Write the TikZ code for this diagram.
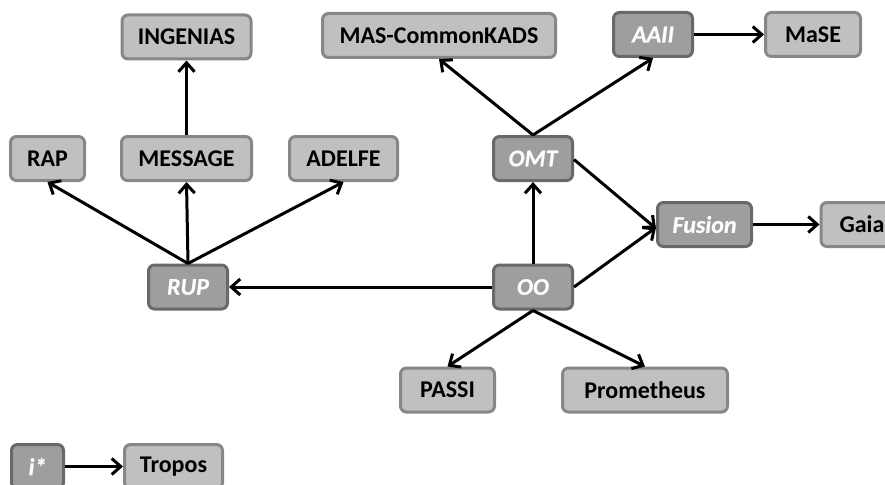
\documentclass[tikz,border=0pt]{standalone}
\usepackage{fontspec}
\setmainfont{Carlito}
\newfontfamily\lightlabel{Carlito}[ItalicFeatures={FakeBold=0.6}, BoldItalicFeatures={FakeBold=0.6}]
\usetikzlibrary{arrows.meta}
\definecolor{lightfill}{RGB}{192,192,192}
\definecolor{lightedge}{RGB}{135,135,135}
\definecolor{darkfill}{RGB}{158,158,158}
\definecolor{darkedge}{RGB}{105,105,105}
\definecolor{darktext}{RGB}{252,252,252}
\tikzset{
  method/.style={draw=lightedge, fill=lightfill, line width=3pt, rounded corners=6pt,
    minimum height=44pt, inner sep=0pt, text=black,
    font=\fontsize{24pt}{26pt}\selectfont\bfseries},
  origin/.style={method, draw=darkedge, fill=darkfill, text=darktext,
    font=\lightlabel\fontsize{24pt}{26pt}\selectfont\bfseries\itshape},
  link/.style={line width=3pt, -{Straight Barb[length=9pt,width=16pt,line width=3pt]}}
}
\begin{document}
\begin{tikzpicture}[x=1pt,y=-1pt]
\useasboundingbox (0,0) rectangle (885,484);
% methodology nodes
\node[method, minimum width=129pt] (ingenias) at (186.5,37) {INGENIAS};
\node[method, minimum width=233pt] (mas) at (439,35.5) {MAS-CommonKADS};
\node[origin, minimum width=79pt] (aaii) at (653,34.5) {AAII};
\node[method, minimum width=95pt] (mase) at (813,34.5) {MaSE};
\node[method, minimum width=74pt] (rap) at (47.5,158.5) {RAP};
\node[method, minimum width=130pt] (message) at (186.5,158.5) {MESSAGE};
\node[method, minimum width=108pt] (adelfe) at (343.5,158.5) {ADELFE};
\node[origin, minimum width=79pt] (omt) at (533,158.5) {OMT};
\node[origin, minimum width=94pt] (fusion) at (704.5,224.5) {Fusion};
\node[method, minimum width=82pt] (gaia) at (862,224.5) {Gaia};
\node[origin, minimum width=79pt] (rup) at (188,287) {RUP};
\node[origin, minimum width=79pt] (oo) at (533,287) {OO};
\node[method, minimum width=94pt] (passi) at (447.5,390) {PASSI};
\node[method, minimum width=165pt] (prometheus) at (645,390) {Prometheus};
\node[origin, minimum width=52pt] (istar) at (37.5,466.5) {i*};
\node[method, minimum width=98pt] (tropos) at (173.5,466.5) {Tropos};
% derivation links
\draw[link] (message.north) -- (ingenias.south);
\draw[link] (rup.north) -- (rap.south);
\draw[link] (rup.north) -- (message.south);
\draw[link] (rup.north) -- (adelfe.south);
\draw[link] (omt.north) -- (mas.south);
\draw[link] (omt.north) -- (aaii.south);
\draw[link] (aaii.east) -- (mase.west);
\draw[link] ([yshift=-1pt]omt.east) -- ([yshift=-4pt]fusion.west);
\draw[link] (oo.east) -- ([yshift=-3pt]fusion.west);
\draw[link] (fusion.east) -- (gaia.west);
\draw[link] (oo.north) -- (omt.south);
\draw[link] (oo.west) -- (rup.east);
\draw[link] (oo.south) -- (passi.north);
\draw[link] (oo.south) -- (prometheus.north);
\draw[link] (istar.east) -- (tropos.west);
\end{tikzpicture}
\end{document}
